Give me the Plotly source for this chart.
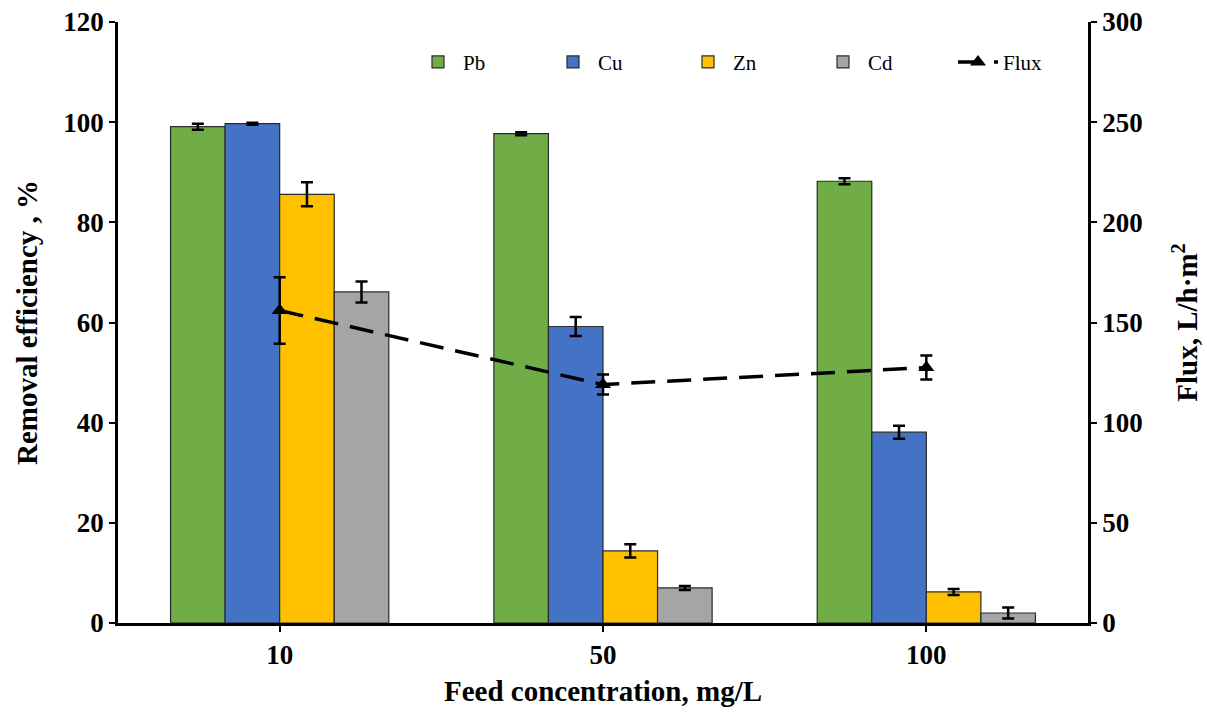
import plotly.graph_objects as go

categories = ["10", "50", "100"]
pb = [99.1, 97.7, 88.2]
pb_err = [0.6, 0.3, 0.6]
cu = [99.7, 59.2, 38.1]
cu_err = [0.2, 1.9, 1.3]
zn = [85.6, 14.4, 6.2]
zn_err = [2.4, 1.3, 0.6]
cd = [66.1, 7.0, 2.0]
cd_err = [2.1, 0.4, 1.1]
flux = [156.0, 119.0, 127.5]
flux_err = [16.6, 5.0, 6.0]

FONT = "Liberation Serif"
TICK = 27
TITLE = 29

fig = go.Figure()

def add_bar(name, vals, errs, color):
    fig.add_trace(go.Bar(
        x=categories, y=vals, name=name,
        marker=dict(color=color, line=dict(color="#2a2a2a", width=1.2)),
        error_y=dict(type="data", array=errs, visible=True, color="black",
                     thickness=2.5, width=6),
    ))

add_bar("Pb", pb, pb_err, "#70ad47")
add_bar("Cu", cu, cu_err, "#4472c4")
add_bar("Zn", zn, zn_err, "#ffc000")
add_bar("Cd", cd, cd_err, "#a5a5a5")

fig.add_trace(go.Scatter(
    x=categories, y=flux, name="Flux", yaxis="y2", mode="lines+markers",
    line=dict(color="black", width=3.5, dash="24px,12px"),
    marker=dict(symbol="triangle-up", size=14, color="black"),
    error_y=dict(type="data", array=flux_err, visible=True, color="black",
                 thickness=2.5, width=6),
))

fig.update_layout(
    width=1207, height=712,
    margin=dict(l=118, r=119, t=22, b=89),
    paper_bgcolor="white", plot_bgcolor="white",
    barmode="group", bargap=0.325, bargroupgap=0,
    font=dict(family=FONT, size=20, color="black"),
    legend=dict(orientation="h", x=1.0, xanchor="right", y=0.933, yanchor="middle",
                font=dict(family=FONT, size=21), bgcolor="rgba(0,0,0,0)",
                entrywidth=80, entrywidthmode="pixels", itemwidth=40,
                traceorder="normal"),
    xaxis=dict(type="category", showline=True, linecolor="black", linewidth=2.5,
               ticks="outside", ticklen=6, tickwidth=2, tickcolor="black",
               tickfont=dict(family=FONT, size=TICK, color="black", weight="bold"),
               title=dict(text="<b>Feed concentration, mg/L</b>",
                          font=dict(family=FONT, size=TITLE), standoff=12),
               showgrid=False, zeroline=False, automargin=False),
    yaxis=dict(range=[0, 120], dtick=20, showline=True, linecolor="black", linewidth=2.5,
               ticks="outside", ticklen=6, tickwidth=2, tickcolor="black",
               tickfont=dict(family=FONT, size=TICK, color="black", weight="bold"),
               title=dict(text="<b>Removal efficiency , %</b>",
                          font=dict(family=FONT, size=TITLE), standoff=18),
               showgrid=False, zeroline=False, automargin=False),
    yaxis2=dict(range=[0, 300], dtick=50, overlaying="y", side="right",
                showline=True, linecolor="black", linewidth=2.5,
                ticks="outside", ticklen=6, tickwidth=2, tickcolor="black",
                tickfont=dict(family=FONT, size=TICK, color="black", weight="bold"),
                title=dict(text="<b>Flux, L/h·m<sup>2</sup></b>",
                           font=dict(family=FONT, size=TITLE), standoff=36),
                showgrid=False, zeroline=False, automargin=False),
)

fig.write_html("out.html")
